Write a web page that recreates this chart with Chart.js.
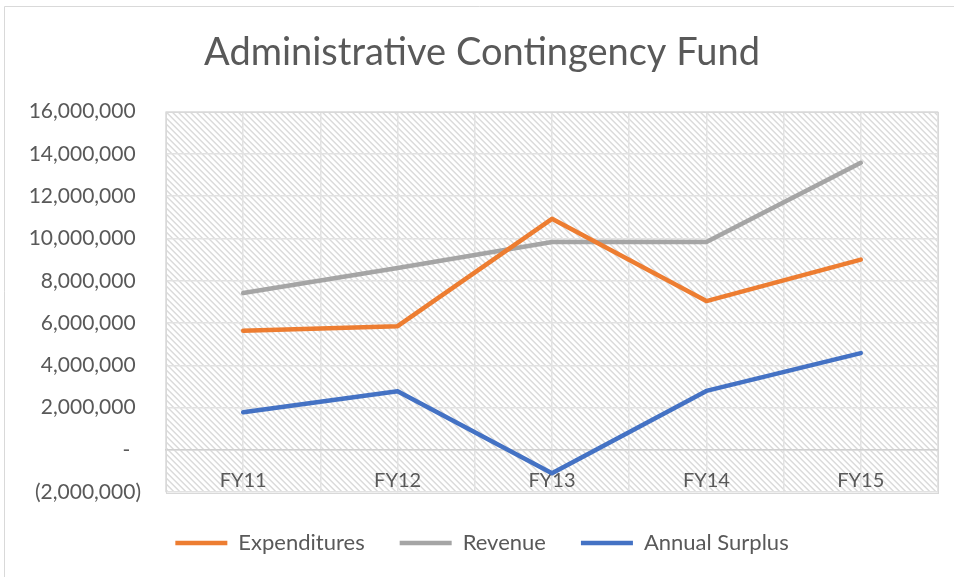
<!DOCTYPE html>
<html>
<head>
<meta charset="utf-8">
<title>Administrative Contingency Fund</title>
<script src="https://cdn.jsdelivr.net/npm/chart.js@4.4.1/dist/chart.umd.min.js"></script>
<style>
  html, body { margin: 0; padding: 0; background: #fff; }
  #chart { display: block; }
</style>
</head>
<body>
<canvas id="chart" width="954" height="577"></canvas>
<script>
const categories = ["FY11", "FY12", "FY13", "FY14", "FY15"];
const expenditures = [5640000, 5850000, 10930000, 7040000, 9000000];
const revenue = [7420000, 8600000, 9830000, 9830000, 13580000];
const annualSurplus = [1780000, 2770000, -1100000, 2790000, 4580000];
const yTicks = [-2000000, 0, 2000000, 4000000, 6000000, 8000000, 10000000, 12000000, 14000000, 16000000];

const textColor = "#595959";
const fontFamily = "Lato, 'Open Sans', sans-serif";
const padLeft = 26;

// diagonal hatch used as the plot background
const makeHatch = () => {
  const c = document.createElement("canvas");
  c.width = 6;
  c.height = 6;
  const g = c.getContext("2d");
  const img = g.createImageData(6, 6);
  for (let y = 0; y < 6; y++) {
    for (let x = 0; x < 6; x++) {
      const d = (((x - y) % 6) + 6) % 6;
      const v = d === 0 ? 218 : d === 1 ? 230 : d === 5 ? 242 : 255;
      const i = (y * 6 + x) * 4;
      img.data[i] = v; img.data[i + 1] = v; img.data[i + 2] = v; img.data[i + 3] = 255;
    }
  }
  g.putImageData(img, 0, 0);
  return c;
};

const hatchPlugin = {
  id: "hatch",
  beforeDraw(chart) {
    const { ctx, chartArea: a } = chart;
    ctx.save();
    // outer chart frame (left + top edges visible)
    ctx.strokeStyle = "#d9d9d9";
    ctx.lineWidth = 1;
    ctx.beginPath();
    ctx.moveTo(4.5, 577);
    ctx.lineTo(4.5, 6.5);
    ctx.lineTo(954, 6.5);
    ctx.stroke();
    ctx.fillStyle = ctx.createPattern(makeHatch(), "repeat");
    ctx.fillRect(a.left, a.top, a.right - a.left, a.bottom - a.top);
    ctx.restore();
  },
  beforeDatasetsDraw(chart) {
    const { ctx, chartArea: a } = chart;
    ctx.save();
    ctx.strokeStyle = "#d9d9d9";
    ctx.lineWidth = 1;
    ctx.strokeRect(Math.round(a.left) + 0.5, Math.round(a.top) + 0.5, Math.round(a.right - a.left), Math.round(a.bottom - a.top));
    ctx.restore();
  }
};

const fmtTick = (v) => {
  if (v === 0) return "-  ";
  const s = Math.abs(v).toLocaleString("en-US");
  return v < 0 ? "(" + s + ")" : s + " ";
};

const lineSet = (label, data, color) => ({
  label,
  data,
  borderColor: color,
  backgroundColor: color,
  borderWidth: 4.5,
  borderCapStyle: "round",
  borderJoinStyle: "round",
  pointRadius: 0,
  pointHoverRadius: 0,
  tension: 0,
  fill: false
});

new Chart(document.getElementById("chart"), {
  type: "line",
  data: {
    labels: categories,
    datasets: [
      lineSet("Expenditures", expenditures, "#ED7D31"),
      lineSet("Revenue", revenue, "#A5A5A5"),
      lineSet("Annual Surplus", annualSurplus, "#4472C4")
    ]
  },
  options: {
    responsive: false,
    animation: false,
    devicePixelRatio: 1,
    layout: { padding: { left: padLeft, right: 16, top: 0, bottom: 13 } },
    plugins: {
      title: {
        display: true,
        text: "Administrative Contingency Fund",
        color: textColor,
        font: { family: fontFamily, size: 38, weight: "normal", lineHeight: 1.2 },
        padding: { top: 30, bottom: 36 }
      },
      legend: {
        position: "bottom",
        title: { display: true, text: "", font: { size: 4 }, padding: 0 },
        labels: {
          color: textColor,
          font: { family: fontFamily, size: 22 },
          usePointStyle: true,
          pointStyle: "line",
          pointStyleWidth: 52,
          padding: 35
        }
      },
      tooltip: { enabled: false }
    },
    scales: {
      x: {
        type: "category",
        offset: true,
        position: { y: 0 },
        grid: { offset: true, color: "#e2e2e2", lineWidth: 1.5, drawTicks: false },
        border: { display: true, color: "#d0d0d0", width: 1.5 },
        ticks: { color: textColor, font: { family: fontFamily, size: 20 }, padding: 19, maxRotation: 0 }
      },
      x2: {
        type: "category",
        labels: categories,
        offset: true,
        position: { y: 0 },
        grid: { offset: false, color: "#e2e2e2", lineWidth: 1.5, drawTicks: false },
        border: { display: false },
        ticks: { display: false }
      },
      y: {
        min: -2000000,
        max: 16000000,
        afterBuildTicks: (scale) => { scale.ticks = yTicks.map((v) => ({ value: v })); },
        afterFit: (scale) => { scale.width = 166 - padLeft; },
        grid: { color: "#e2e2e2", lineWidth: 1.5, drawTicks: false },
        border: { display: false },
        ticks: { color: textColor, font: { family: fontFamily, size: 21 }, padding: 25, callback: fmtTick }
      }
    }
  },
  plugins: [hatchPlugin]
});
</script>
</body>
</html>
